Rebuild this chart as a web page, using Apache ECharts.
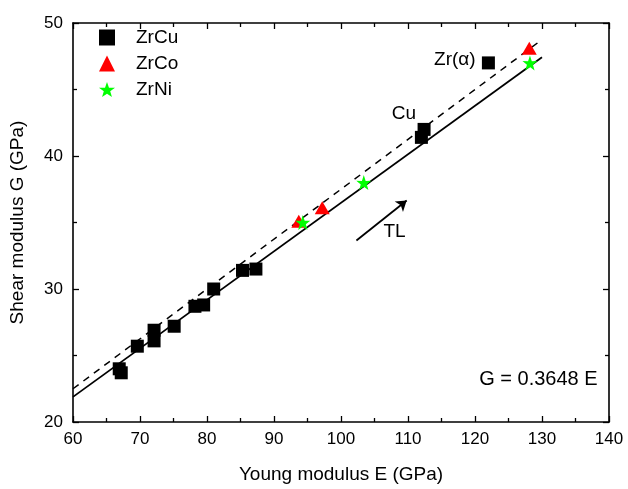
<!DOCTYPE html>
<html>
<head>
<meta charset="utf-8">
<script src="https://cdn.jsdelivr.net/npm/echarts@6/dist/echarts.min.js"></script>
<style>
  html, body { margin: 0; padding: 0; background: #fff; }
  #chart { width: 628px; height: 489px; }
</style>
</head>
<body>
<div id="chart"></div>
<script>
// Young modulus E (GPa) vs shear modulus G (GPa)
const zrCu = [
  [66.9, 24.0], [67.2, 23.7], [69.6, 25.7], [72.1, 26.9], [72.1, 26.1],
  [75.1, 27.2], [78.2, 28.7], [79.5, 28.8], [81.0, 30.0], [85.3, 31.4],
  [87.3, 31.5], [112.0, 41.4], [112.4, 42.0], [122.0, 47.0]
];
const zrCo = [[93.7, 35.1], [97.2, 36.1], [128.1, 48.1]];
const zrNi = [[94.3, 35.0], [103.4, 38.0], [128.2, 47.0]];

// fitted relation G = 0.3648 E and the reference line G = 3E/8
const fitLine = [[60, 21.888], [130, 47.424]];
const refLine = [[60, 22.5], [130, 48.75]];

// annotations (data coordinates)
const notes = [
  { name: 'Cu', value: [109.4, 43.2] },
  { name: 'Zr(\u03b1)', value: [117.0, 47.2] },
  { name: 'TL', value: [108.0, 34.3] },
  { name: 'G = 0.3648 E', value: [138.3, 23.2] }
];
const tlArrow = [[102.3, 33.65], [109.8, 36.65]];

const xTicks = { min: 60, max: 140, interval: 10 };
const yTicks = { min: 20, max: 50, interval: 10 };

const starPath = 'path://M50,0 L61.8,35.1 L97.6,34.5 L69.1,56.4 L79.4,90.5 L50,70 L20.6,90.5 L30.9,56.4 L2.4,34.5 L38.2,35.1 Z';
const FONT = 'Liberation Sans, Arial, sans-serif';

function frameAxis(pos, range, main, name) {
  return {
    type: 'value',
    position: pos,
    min: range.min, max: range.max, interval: range.interval,
    name: main ? name : '',
    nameLocation: 'middle',
    nameGap: pos === 'bottom' ? 43 : 46,
    nameTextStyle: { fontFamily: FONT, fontSize: 19, color: '#000' },
    axisLine: { show: true, onZero: false, lineStyle: { color: '#000', width: 1.6 } },
    axisTick: { show: true, inside: true, length: 6, lineStyle: { color: '#000', width: 1.3 } },
    minorTick: { show: true, splitNumber: 2, length: 4, lineStyle: { color: '#000', width: 1.3 } },
    axisLabel: {
      show: main, color: '#000', fontFamily: FONT, fontSize: 17,
      margin: pos === 'bottom' ? 9 : 10
    },
    splitLine: { show: false },
    minorSplitLine: { show: false }
  };
}

const chart = echarts.init(document.getElementById('chart'), null, { renderer: 'canvas' });
chart.setOption({
  backgroundColor: '#fff',
  animation: false,
  grid: { left: 73, right: 19, top: 23, bottom: 66, containLabel: false },
  xAxis: [
    frameAxis('bottom', xTicks, true, 'Young modulus E (GPa)'),
    frameAxis('top', xTicks, false, '')
  ],
  yAxis: [
    frameAxis('left', yTicks, true, 'Shear modulus G (GPa)'),
    frameAxis('right', yTicks, false, '')
  ],
  legend: {
    orient: 'vertical',
    left: 94, top: 23,
    itemWidth: 16, itemHeight: 16, itemGap: 7,
    textStyle: {
      fontFamily: FONT, fontSize: 19, lineHeight: 16, color: '#000',
      padding: [0, 0, 0, 16]
    },
    data: ['ZrCu', 'ZrCo', 'ZrNi']
  },
  series: [
    {
      type: 'line', data: fitLine, symbol: 'none', silent: true,
      lineStyle: { color: '#000', width: 1.8 }, z: 2
    },
    {
      type: 'line', data: refLine, symbol: 'none', silent: true,
      lineStyle: { color: '#000', width: 1.5, type: [7, 6] }, z: 2
    },
    {
      name: 'ZrCu', type: 'scatter', data: zrCu, symbol: 'rect', symbolSize: 13,
      itemStyle: { color: '#000', opacity: 1 }, z: 3
    },
    {
      name: 'ZrCo', type: 'scatter', data: zrCo, symbol: 'triangle', symbolSize: [15, 13],
      itemStyle: { color: '#ff0000', opacity: 1 }, z: 3
    },
    {
      name: 'ZrNi', type: 'scatter', data: zrNi, symbol: starPath, symbolSize: 15,
      itemStyle: { color: '#00ff00', opacity: 1 }, z: 4
    },
    {
      type: 'lines', coordinateSystem: 'cartesian2d', silent: true,
      data: [{ coords: tlArrow }],
      symbol: ['none', 'arrow'], symbolSize: 10,
      lineStyle: { color: '#000', width: 1.8, opacity: 1 }, z: 5
    },
    {
      type: 'scatter', silent: true, symbolSize: 0,
      data: notes,
      itemStyle: { opacity: 1 },
      label: {
        show: true, position: 'inside',
        formatter: p => p.name,
        fontFamily: FONT, fontSize: 19, color: '#000',
        align: 'center', verticalAlign: 'middle'
      },
      labelLayout: p => (p.dataIndex === 3 ? { align: 'right', fontSize: 20 } : {}),
      z: 6
    }
  ]
});
</script>
</body>
</html>
